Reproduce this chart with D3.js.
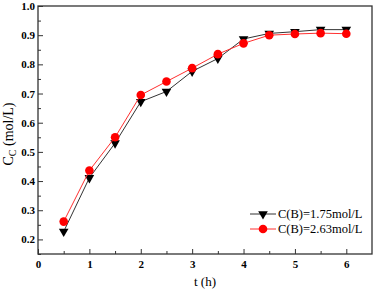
<!DOCTYPE html>
<html>
<head>
<meta charset="utf-8">
<script src="https://cdn.jsdelivr.net/npm/d3@7"></script>
<style>
  body { margin: 0; background: #fff; }
</style>
</head>
<body>
<div id="chart" style="width:377px;height:292px;"></div>
<script>
const times = [0.5, 1, 1.5, 2, 2.5, 3, 3.5, 4, 4.5, 5, 5.5, 6];
const seriesLow = [0.227, 0.411, 0.53, 0.672, 0.707, 0.776, 0.82, 0.887, 0.906, 0.912, 0.919, 0.919];
const seriesHigh = [0.261, 0.436, 0.55, 0.695, 0.741, 0.787, 0.835, 0.872, 0.9, 0.904, 0.907, 0.905];
const legendLabels = ["C(B)=1.75mol/L", "C(B)=2.63mol/L"];
const xTicks = [0, 1, 2, 3, 4, 5, 6];
const yTicks = [0.2, 0.3, 0.4, 0.5, 0.6, 0.7, 0.8, 0.9, 1.0];

const SERIF = "'Liberation Serif', 'Times New Roman', 'DejaVu Serif', serif";

function renderChart(containerSelector) {
    const container = d3.select(containerSelector);
    const width = 377, height = 292;
    const margin = { top: 6, right: 5, bottom: 38, left: 38 };

    const svg = container.append("svg")
        .attr("width", width)
        .attr("height", height)
        .style("font-family", SERIF);

    const x = d3.scaleLinear()
        .domain([0, 6.5])
        .range([margin.left, width - margin.right]);

    const y = d3.scaleLinear()
        .domain([0.15, 1.0])
        .range([height - margin.bottom, margin.top]);

    // Frame
    svg.append("rect")
        .attr("x", margin.left)
        .attr("y", margin.top)
        .attr("width", width - margin.left - margin.right)
        .attr("height", height - margin.top - margin.bottom)
        .attr("fill", "none")
        .attr("stroke", "#333")
        .attr("stroke-width", 1.3);

    // X axis (ticks inward)
    const xAxis = svg.append("g")
        .attr("transform", `translate(0,${height - margin.bottom})`)
        .call(d3.axisBottom(x).tickValues(xTicks).tickSize(-5).tickPadding(6).tickFormat(d3.format("d")));
    xAxis.attr("font-family", null).select(".domain").remove();
    xAxis.selectAll("text").style("font-size", "11px").style("font-weight", "bold").style("font-family", SERIF).attr("fill", "#000");
    xAxis.selectAll("line").attr("stroke", "#333");
    svg.append("g")
        .attr("transform", `translate(0,${height - margin.bottom})`)
        .call(d3.axisBottom(x).tickValues(xTicks.map(d => d + 0.5).filter(d => d < 6.5)).tickSize(-3).tickFormat(""))
        .call(g => g.select(".domain").remove())
        .selectAll("line").attr("stroke", "#333");

    // Y axis (ticks inward)
    const yAxis = svg.append("g")
        .attr("transform", `translate(${margin.left},0)`)
        .call(d3.axisLeft(y).tickValues(yTicks).tickSize(-5).tickPadding(3).tickFormat(d3.format(".1f")));
    yAxis.attr("font-family", null).select(".domain").remove();
    yAxis.selectAll("text").style("font-size", "11px").style("font-weight", "bold").style("font-family", SERIF).attr("fill", "#000");
    yAxis.selectAll("line").attr("stroke", "#333");
    svg.append("g")
        .attr("transform", `translate(${margin.left},0)`)
        .call(d3.axisLeft(y).tickValues(yTicks.map(d => d - 0.05)).tickSize(-3).tickFormat(""))
        .call(g => g.select(".domain").remove())
        .selectAll("line").attr("stroke", "#333");

    // Axis labels
    svg.append("text")
        .attr("x", x(3.25))
        .attr("y", 286)
        .attr("text-anchor", "middle")
        .style("font-family", SERIF)
        .style("font-size", "13px")
        .text("t (h)");

    const yl = svg.append("text")
        .attr("transform", "translate(13,134) rotate(-90)")
        .attr("text-anchor", "middle")
        .style("font-family", SERIF)
        .style("font-size", "14px");
    yl.append("tspan").text("C");
    yl.append("tspan").attr("dy", 3).style("font-size", "10px").text("C");
    yl.append("tspan").attr("dy", -3).text(" (mol/L)");

    const series = [
        { values: seriesLow, color: "#000", line: "#333", shape: "tri" },
        { values: seriesHigh, color: "#ff0000", line: "#ff3030", shape: "circle" }
    ];

    const line = d3.line().x(d => x(d[0])).y(d => y(d[1]));
    const triangle = d3.symbol().type(d3.symbolTriangle).size(40);

    function drawMarker(g, s, cx, cy) {
        if (s.shape === "tri") {
            g.append("path")
                .attr("d", triangle())
                .attr("transform", `translate(${cx},${cy}) rotate(180)`)
                .attr("fill", s.color);
        } else {
            g.append("circle")
                .attr("cx", cx).attr("cy", cy).attr("r", 4.3)
                .attr("fill", s.color);
        }
    }

    series.forEach(s => {
        const pts = times.map((t, i) => [t, s.values[i]]);
        svg.append("path")
            .datum(pts)
            .attr("d", line)
            .attr("fill", "none")
            .attr("stroke", s.line)
            .attr("stroke-width", 1);
        const g = svg.append("g");
        pts.forEach(p => drawMarker(g, s, x(p[0]), y(p[1])));
    });

    // Legend
    const legend = svg.append("g");
    series.forEach((s, i) => {
        const ly = 214 + i * 15;
        legend.append("line")
            .attr("x1", 250).attr("x2", 276)
            .attr("y1", ly).attr("y2", ly)
            .attr("stroke", s.line).attr("stroke-width", 1);
        drawMarker(legend, s, 263, ly);
        legend.append("text")
            .attr("x", 278).attr("y", ly + 4)
            .style("font-family", SERIF)
            .style("font-size", "12.5px")
            .text(legendLabels[i]);
    });
}

renderChart("#chart");
</script>
</body>
</html>
